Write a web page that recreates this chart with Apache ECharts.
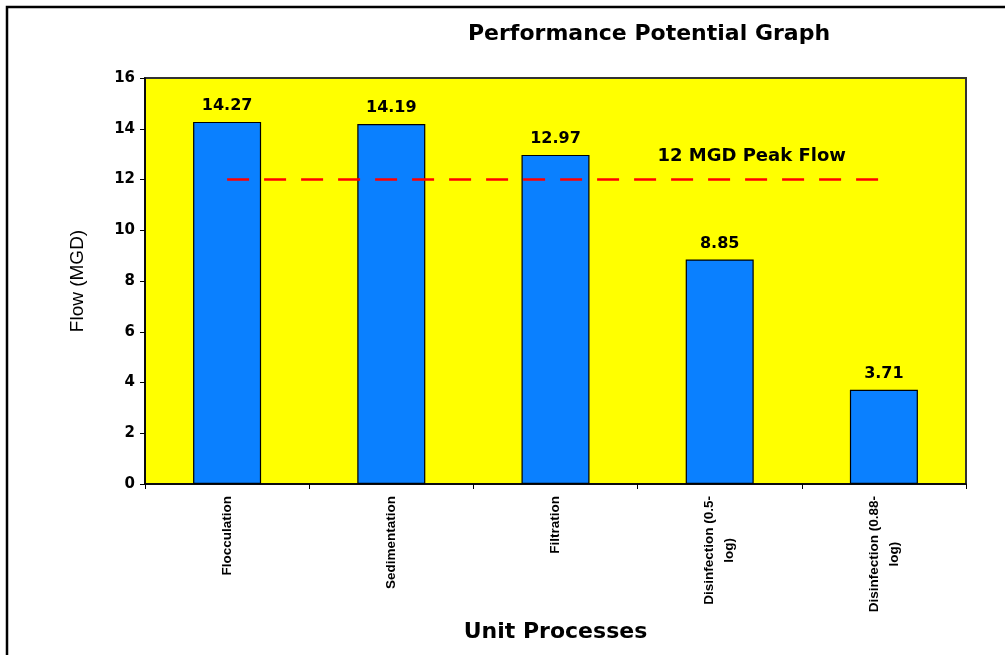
<!DOCTYPE html>
<html>
<head>
<meta charset="utf-8">
<script src="https://cdn.jsdelivr.net/npm/echarts@6/dist/echarts.min.js"></script>
<style>
  html, body { margin: 0; padding: 0; background: #fff; overflow: hidden; }
  #chart { width: 1005px; height: 655px; }
</style>
</head>
<body>
<div id="chart"></div>
<script>
// Unit processes and their rated flow capacity (MGD)
const categories = [
  'Flocculation',
  'Sedimentation',
  'Filtration',
  'Disinfection (0.5-\nlog)',
  'Disinfection (0.88-\nlog)'
];
const flowValues = [14.27, 14.19, 12.97, 8.85, 3.71];
const peakFlow = 12;
const peakLine = categories.map(() => peakFlow);
const peakLabel = '12 MGD Peak Flow';
const peakLabelIndex = 3;

const chart = echarts.init(document.getElementById('chart'), null, { renderer: 'canvas' });

const wideFont = '"DejaVu Sans", Verdana, sans-serif';
const narrowFont = '"Liberation Sans Narrow", "Arial Narrow", "Liberation Sans", Arial, sans-serif';

// category label text style (vertical, condensed)
const catStyle = {
  fontFamily: narrowFont,
  fontSize: 13.5,
  fontWeight: 'bold',
  color: '#000',
  lineHeight: 20
};

chart.setOption({
  animation: false,
  backgroundColor: '#ffffff',
  title: {
    text: 'Performance Potential Graph',
    left: 644,
    top: 18,
    textAlign: 'center',
    textStyle: { fontFamily: wideFont, fontSize: 22, fontWeight: 'bold', color: '#000' }
  },
  graphic: [
    // page frame: top and left rules
    {
      type: 'polyline',
      shape: { points: [[7, 660], [7, 7], [1010, 7]] },
      style: { stroke: '#000', lineWidth: 2.5, fill: null },
      z: 100
    }
  ],
  grid: {
    left: 145,
    right: 39,
    top: 78,
    bottom: 171,
    containLabel: false,
    outerBoundsMode: 'none',
    show: true,
    backgroundColor: '#FFFF00',
    borderColor: '#333333',
    borderWidth: 2
  },
  xAxis: {
    type: 'category',
    data: categories,
    name: 'Unit Processes',
    nameLocation: 'middle',
    nameGap: 137,
    nameMoveOverlap: false,
    nameTextStyle: { fontFamily: wideFont, fontSize: 22, fontWeight: 'bold', color: '#000' },
    axisLine: { lineStyle: { color: '#000', width: 1.5 } },
    axisTick: { show: true, alignWithLabel: false, length: 5, lineStyle: { color: '#000' } },
    axisLabel: Object.assign({
      rotate: 90,
      margin: 12,
      interval: 0,
      formatter: name => {
        const lines = name.split('\n');
        if (lines.length === 1) return '{a|' + name + '}';
        return '{a|' + lines[0] + '}\n{b|' + lines[1] + '}';
      },
      rich: {
        a: Object.assign({}, catStyle),
        b: Object.assign({ align: 'center' }, catStyle)
      }
    }, catStyle)
  },
  yAxis: {
    type: 'value',
    min: 0,
    max: 16,
    interval: 2,
    name: 'Flow (MGD)',
    nameLocation: 'middle',
    nameGap: 58,
    nameMoveOverlap: false,
    nameTextStyle: { fontFamily: '"Liberation Sans", Arial, sans-serif', fontSize: 19, color: '#000' },
    splitLine: { show: false },
    axisLine: { show: true, lineStyle: { color: '#000', width: 1.5 } },
    axisTick: { show: true, length: 5, lineStyle: { color: '#000' } },
    axisLabel: { fontFamily: wideFont, fontSize: 15, fontWeight: 'bold', color: '#000', margin: 10 }
  },
  series: [
    {
      type: 'bar',
      data: flowValues,
      barWidth: 68,
      itemStyle: { color: '#0A80FF', borderColor: '#000', borderWidth: 1.2 },
      label: {
        show: true,
        position: 'top',
        distance: 8,
        fontFamily: wideFont,
        fontSize: 16,
        fontWeight: 'bold',
        color: '#000',
        formatter: p => p.value.toFixed(2)
      },
      z: 2
    },
    {
      type: 'line',
      data: peakLine,
      symbol: 'none',
      lineStyle: { color: '#FF0000', width: 2.5, type: [22, 15] },
      markPoint: {
        symbol: 'rect',
        symbolSize: 1,
        itemStyle: { color: 'rgba(0,0,0,0)' },
        data: [{ coord: [peakLabelIndex, peakFlow] }],
        label: {
          show: true,
          position: 'inside',
          formatter: peakLabel,
          offset: [32, -23],
          fontFamily: wideFont,
          fontSize: 18,
          fontWeight: 'bold',
          color: '#000'
        }
      },
      z: 3
    }
  ]
});
</script>
</body>
</html>
